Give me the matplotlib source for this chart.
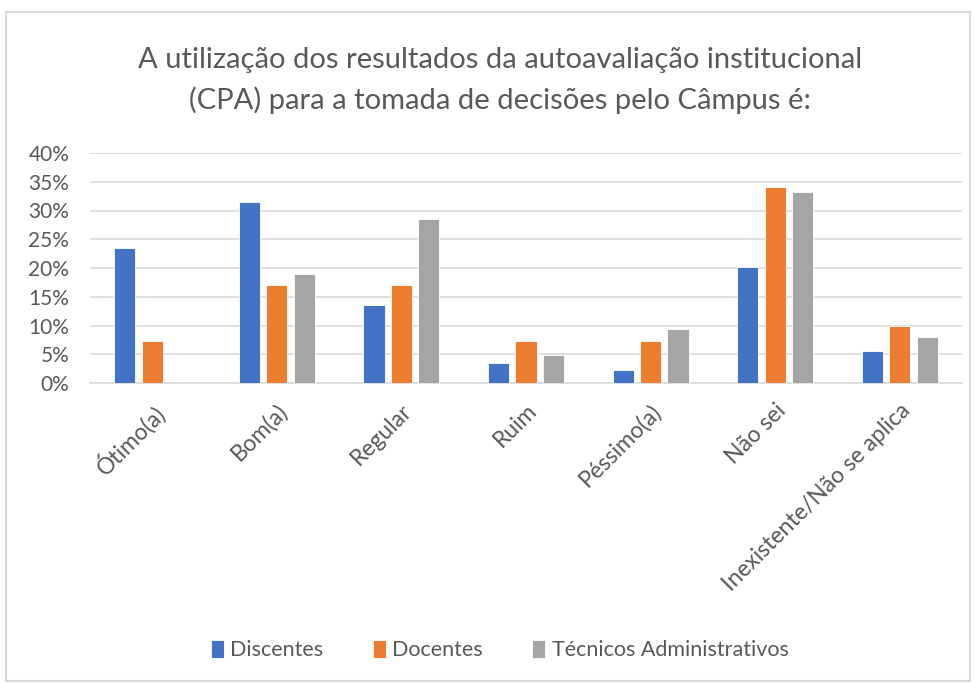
import numpy as np
import matplotlib
matplotlib.use("Agg")
from matplotlib import pyplot as plt
from matplotlib.patches import Rectangle

plt.rcParams['font.family'] = ['Lato', 'DejaVu Sans']

categories = ['Ótimo(a)', 'Bom(a)', 'Regular', 'Ruim', 'Péssimo(a)', 'Não sei',
              'Inexistente/Não se aplica']
series_names = ['Discentes', 'Docentes', 'Técnicos Administrativos']
discentes = [23.5, 31.4, 13.5, 3.4, 2.3, 20.2, 5.6]
docentes = [7.3, 17.1, 17.1, 7.3, 7.3, 34.1, 9.9]
tecnicos = [0.0, 19.0, 28.6, 4.9, 9.4, 33.2, 8.0]
colors = ['#4472C4', '#ED7D31', '#A5A5A5']
y_ticks = [0, 5, 10, 15, 20, 25, 30, 35, 40]

fig = plt.figure(figsize=(9.74, 6.84), dpi=100)
fig.patches.append(Rectangle((0.006, 0.005), 0.99, 0.978, transform=fig.transFigure,
                             fill=False, edgecolor='#D9D9D9', linewidth=1.5))

ax = fig.add_axes([90 / 974, 1 - 383 / 684, 872 / 974, 230 / 684])

x = np.arange(len(categories))
w = 0.17
step = 0.22
for i, (vals, name) in enumerate(zip([discentes, docentes, tecnicos], series_names)):
    ax.bar(x + (i - 1) * step, vals, width=w, color=colors[i], label=name,
           edgecolor='white', linewidth=0.6, zorder=3)

ax.set_xlim(-0.5, len(categories) - 0.5)
ax.set_ylim(0, 40)
ax.set_yticks(y_ticks)
ax.set_yticklabels([f'{t}%' for t in y_ticks], fontsize=15, color='#595959')
ax.yaxis.grid(True, color='#D9D9D9', linewidth=1.2, zorder=0)
ax.set_xticks(x)
ax.set_xticklabels(categories, rotation=45, ha='right', rotation_mode='anchor',
                   fontsize=16.5, color='#595959')
ax.tick_params(axis='y', length=0, pad=15)
ax.tick_params(axis='x', length=0, pad=12)
for s in ['top', 'right', 'left']:
    ax.spines[s].set_visible(False)
ax.spines['bottom'].set_color('#D9D9D9')
ax.spines['bottom'].set_linewidth(1.2)

fig.text(0.513, 1 - 60 / 684, 'A utilização dos resultados da autoavaliação institucional',
         ha='center', va='center', fontsize=21, color='#595959')
fig.text(0.513, 1 - 100 / 684, '(CPA) para a tomada de decisões pelo Câmpus é:',
         ha='center', va='center', fontsize=21, color='#595959')

fig.legend(loc='center', bbox_to_anchor=(0.513, 1 - 650 / 684), ncol=3, frameon=False,
           fontsize=15.5, labelcolor='#595959', handlelength=0.6, handleheight=0.9,
           handletextpad=0.3, columnspacing=2.3)

fig.savefig('out.png', dpi=100, facecolor='white')
